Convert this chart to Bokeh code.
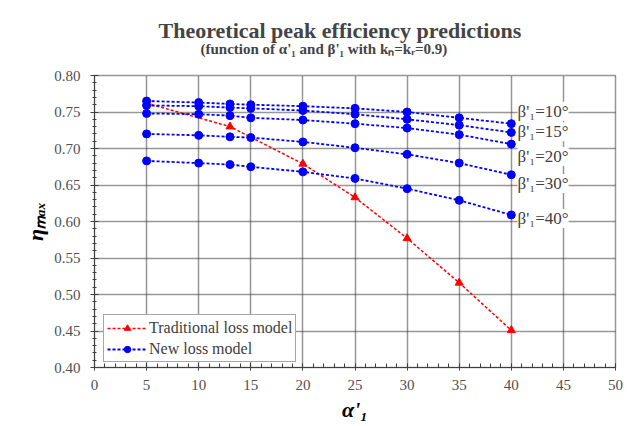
from bokeh.plotting import figure
from bokeh.models import (Title, Label, Legend, LegendItem, FixedTicker,
                          NumeralTickFormatter)
from bokeh.embed import file_html
from bokeh.resources import INLINE

# ---------------- data ----------------
alpha_trad = [5, 13, 20, 25, 30, 35, 40]
eta_trad = [0.762, 0.730, 0.679, 0.633, 0.577, 0.516, 0.451]

alpha_new = [5, 10, 13, 15, 20, 25, 30, 35, 40]
eta_b10 = [0.765, 0.763, 0.761, 0.760, 0.758, 0.755, 0.750, 0.742, 0.734]
eta_b15 = [0.759, 0.758, 0.756, 0.755, 0.752, 0.747, 0.740, 0.732, 0.722]
eta_b20 = [0.748, 0.747, 0.745, 0.742, 0.739, 0.734, 0.728, 0.719, 0.706]
eta_b30 = [0.720, 0.718, 0.716, 0.715, 0.709, 0.701, 0.692, 0.680, 0.664]
eta_b40 = [0.683, 0.680, 0.678, 0.675, 0.668, 0.659, 0.645, 0.629, 0.609]
new_series = [eta_b10, eta_b15, eta_b20, eta_b30, eta_b40]

beta_labels = ["\u03b2'\u2081=10\u00b0", "\u03b2'\u2081=15\u00b0", "\u03b2'\u2081=20\u00b0",
               "\u03b2'\u2081=30\u00b0", "\u03b2'\u2081=40\u00b0"]

x_ticks = [0, 5, 10, 15, 20, 25, 30, 35, 40, 45, 50]
y_ticks = [0.40, 0.45, 0.50, 0.55, 0.60, 0.65, 0.70, 0.75, 0.80]

title_text = "Theoretical peak efficiency predictions"
subtitle_text = "(function of \u03b1'\u2081 and \u03b2'\u2081 with k\u2099=k\u1d63=0.9)"
legend_labels = ["Traditional loss model", "New loss model"]

# ---------------- figure ----------------
SERIF = "Liberation Serif"
p = figure(width=630, height=424, output_backend="svg", toolbar_location=None,
           x_range=(0, 50), y_range=(0.40, 0.80),
           min_border_left=94, min_border_right=15, min_border_top=75,
           min_border_bottom=57)
p.title.visible = False
p.background_fill_color = "white"
p.border_fill_color = "white"
p.outline_line_color = "#303030"
p.outline_line_dash = "1 1"
p.outline_line_width = 1.5

for g in (p.xgrid[0], p.ygrid[0]):
    g.grid_line_color = "#303030"
    g.grid_line_dash = "1 1"
    g.grid_line_width = 1.5

p.xaxis.ticker = FixedTicker(ticks=x_ticks, minor_ticks=list(range(0, 51)))
p.yaxis.ticker = FixedTicker(ticks=y_ticks,
                             minor_ticks=[round(0.40 + 0.01 * i, 2) for i in range(41)])
p.yaxis.formatter = NumeralTickFormatter(format="0.00")

for ax in (p.xaxis[0], p.yaxis[0]):
    ax.axis_line_color = "#404040"
    ax.major_tick_line_color = "#404040"
    ax.minor_tick_line_color = "#404040"
    ax.major_label_text_font = SERIF
    ax.major_label_text_font_size = "15px"
    ax.major_label_text_color = "#505050"
    ax.axis_label_text_font = SERIF
    ax.axis_label_text_font_style = "bold italic"
    ax.axis_label_text_font_size = "22px"
    ax.axis_label_text_color = "black"

p.xaxis.major_tick_in = 4
p.xaxis.major_tick_out = 3
p.xaxis.minor_tick_in = 4
p.xaxis.minor_tick_out = 0
p.xaxis.major_label_standoff = 9
p.xaxis.axis_label = "\u03b1'\u2081"
p.xaxis.axis_label_standoff = 4

p.yaxis.major_tick_in = 4
p.yaxis.major_tick_out = 4
p.yaxis.minor_tick_in = 2
p.yaxis.minor_tick_out = 2
p.yaxis.major_label_standoff = 10
p.yaxis.axis_label = "\u03b7\u2098\u2090\u2093"
p.yaxis.axis_label_standoff = 3

# ---------------- series ----------------
red_line = p.line(alpha_trad, eta_trad, line_color="red", line_dash="3 2", line_width=1.5)
red_pts = p.scatter(alpha_trad, eta_trad, marker="triangle", size=8,
                    fill_color="red", line_color="red")

blue_line = blue_pts = None
for ys in new_series:
    bl = p.line(alpha_new, ys, line_color="blue", line_dash="3 2", line_width=1.8)
    bp = p.scatter(alpha_new, ys, marker="circle", size=8,
                   fill_color="blue", line_color="blue")
    if blue_line is None:
        blue_line, blue_pts = bl, bp

# ---------------- beta labels ----------------
label_y = [0.751, 0.723, 0.689, 0.652, 0.604]
for txt, ly in zip(beta_labels, label_y):
    p.add_layout(Label(x=40.6, y=ly, text=txt, text_font=SERIF, text_font_size="17px",
                       text_color="#404040", text_baseline="middle",
                       background_fill_color="white"))

# ---------------- legend ----------------
legend = Legend(items=[LegendItem(label=legend_labels[0], renderers=[red_line, red_pts]),
                       LegendItem(label=legend_labels[1], renderers=[blue_line, blue_pts])],
                location=(9, 5), label_text_font=SERIF, label_text_font_size="16px",
                label_text_color="#404040", border_line_color="#505050",
                border_line_width=1, glyph_width=40, glyph_height=16,
                label_height=19, spacing=2, padding=3, margin=0,
                label_standoff=2, background_fill_alpha=1)
p.add_layout(legend, "center")

# ---------------- titles ----------------
p.add_layout(Title(text=" ", text_font_size="16px", standoff=0), "above")
p.add_layout(Title(text=subtitle_text, text_font=SERIF, text_font_style="bold",
                   text_font_size="15px", align="left", offset=106, standoff=0), "above")
p.add_layout(Title(text=title_text, text_font=SERIF, text_font_style="bold",
                   text_font_size="22px", align="left", offset=64, standoff=-8), "above")

open("out.html", "w").write(file_html(p, INLINE))
